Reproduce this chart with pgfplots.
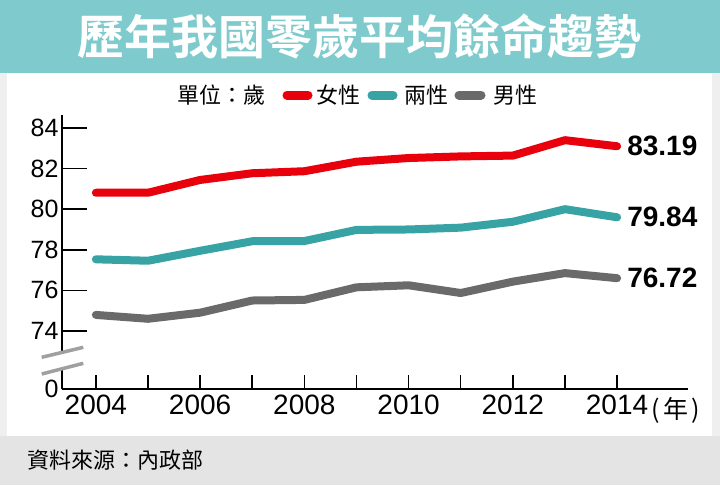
\documentclass[border=0pt]{standalone}
\usepackage{pgfplots}
\pgfplotsset{compat=1.18}
\usepackage{fontspec}
\setmainfont{Liberation Sans}
\newfontfamily\cjk{Noto Sans CJK TC}
\newfontfamily\cjkb{Noto Sans CJK TC Bold}
\definecolor{band}{HTML}{7FCACC}
\definecolor{sidegray}{HTML}{EFEFEF}
\definecolor{footgray}{HTML}{E4E4E4}
\definecolor{redc}{HTML}{E8000D}
\definecolor{tealc}{HTML}{38A3A5}
\definecolor{grayc}{HTML}{6A6A6A}
\definecolor{breakc}{HTML}{A0A0A0}
\begin{document}
\begin{tikzpicture}
\useasboundingbox (0,0) rectangle (720pt,-485pt);
\fill[sidegray] (0,0) rectangle (720pt,-485pt);
\fill[band] (0,0) rectangle (720pt,-72.5pt);
\fill[white] (7pt,-72.5pt) rectangle (712pt,-436pt);
\fill[footgray] (0,-436pt) rectangle (720pt,-485pt);
\node[white, inner sep=0] at (359pt,-36pt) {\fontsize{47}{50}\selectfont\cjkb 歷年我國零歲平均餘命趨勢};
% legend
\node[anchor=west, inner sep=0] at (177pt,-95pt) {\fontsize{22}{24}\selectfont\cjk 單位：歲};
\draw[redc, line width=9pt, line cap=round] (287pt,-95pt) -- (308pt,-95pt);
\node[anchor=west, inner sep=0] at (316pt,-95pt) {\fontsize{22}{24}\selectfont\cjk 女性};
\draw[tealc, line width=9pt, line cap=round] (372pt,-95pt) -- (393pt,-95pt);
\node[anchor=west, inner sep=0] at (404pt,-95pt) {\fontsize{22}{24}\selectfont\cjk 兩性};
\draw[grayc, line width=9pt, line cap=round] (459pt,-95pt) -- (481pt,-95pt);
\node[anchor=west, inner sep=0] at (493pt,-95pt) {\fontsize{22}{24}\selectfont\cjk 男性};
% footer
\node[anchor=west, inner sep=0] at (27pt,-460pt) {\fontsize{22}{24}\selectfont\cjk 資料來源：內政部};
\begin{axis}[
  scale only axis, width=626pt, height=274pt,
  at={(62pt,-389pt)}, anchor=south west,
  xmin=2003.35, xmax=2015.36, ymin=71.14, ymax=84.64,
  axis x line=bottom, axis y line=left,
  axis line style={-, line width=1.8pt, black},
  xtick={2004,...,2014},
  xticklabels={2004,,2006,,2008,,2010,,2012,,2014},
  ytick={74,76,...,84},
  extra y ticks={71.14}, extra y tick labels={0},
  extra y tick style={ytick style={draw=none}},
  tick align=inside,
  xtick style={line width=1.5pt, black, /pgfplots/major tick length=14pt},
  ytick style={line width=1.5pt, black, /pgfplots/major tick length=25pt},
  yticklabel style={font=\fontsize{25}{28}\selectfont},
  xticklabel style={font=\fontsize{28}{30}\selectfont, yshift=-2.5pt},
  /pgf/number format/assume math mode=true,
  clip=false,
]
\addplot[redc, line width=8pt, line cap=round, line join=round, mark=none] coordinates {
(2004,80.81) (2005,80.81) (2006,81.44) (2007,81.77) (2008,81.87) (2009,82.34)
(2010,82.52) (2011,82.60) (2012,82.64) (2013,83.40) (2014,83.10)};
\addplot[tealc, line width=8pt, line cap=round, line join=round, mark=none] coordinates {
(2004,77.53) (2005,77.46) (2006,77.95) (2007,78.42) (2008,78.43) (2009,78.98)
(2010,79.00) (2011,79.09) (2012,79.38) (2013,80.00) (2014,79.60)};
\addplot[grayc, line width=8pt, line cap=round, line join=round, mark=none] coordinates {
(2004,74.79) (2005,74.60) (2006,74.90) (2007,75.50) (2008,75.53) (2009,76.15)
(2010,76.25) (2011,75.87) (2012,76.43) (2013,76.85) (2014,76.60)};
\node[anchor=west, inner sep=0, xshift=10pt, font=\bfseries\fontsize{28}{30}\selectfont] at (axis cs:2014,83.10) {83.19};
\node[anchor=west, inner sep=0, xshift=10pt, font=\bfseries\fontsize{28}{30}\selectfont] at (axis cs:2014,79.60) {79.84};
\node[anchor=west, inner sep=0, xshift=10pt, font=\bfseries\fontsize{28}{30}\selectfont] at (axis cs:2014,76.60) {76.72};
\end{axis}
% axis break
\fill[white] (55pt,-354.1pt) -- (70pt,-350.5pt) -- (70pt,-366.7pt) -- (55pt,-370.6pt) -- cycle;
\draw[breakc, line width=3.5pt] (41.7pt,-357.3pt) -- (83.3pt,-347.3pt);
\draw[breakc, line width=3.5pt] (41.7pt,-374pt) -- (83.3pt,-363.3pt);
\node[anchor=west, inner sep=0] at (651.5pt,-410.5pt) {\fontsize{25}{27}\selectfont\cjk (\kern3pt 年\kern3pt)};
\end{tikzpicture}
\end{document}
